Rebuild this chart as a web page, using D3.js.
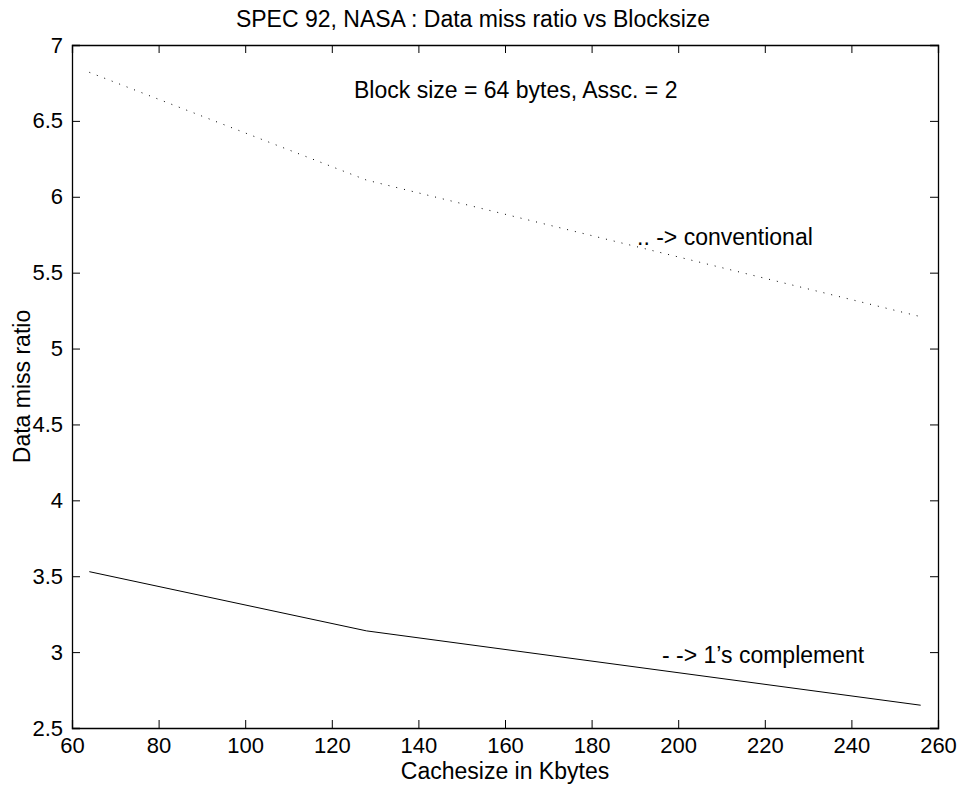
<!DOCTYPE html>
<html>
<head>
<meta charset="utf-8">
<script src="https://cdn.jsdelivr.net/npm/d3@7"></script>
<style>
  body { margin: 0; background: #fff; }
  svg text { font-family: "Liberation Sans", Arial, sans-serif; fill: #000; }
</style>
</head>
<body>
<svg id="chart" width="963" height="787"></svg>
<script>
// Cache sizes (Kbytes) and data miss ratios for each scheme
const cacheSizes = [64, 128, 256];
const conventional = [6.82, 6.11, 5.21];
const onesComplement = [3.53, 3.14, 2.65];
const xTicks = [60, 80, 100, 120, 140, 160, 180, 200, 220, 240, 260];
const yTicks = [2.5, 3, 3.5, 4, 4.5, 5, 5.5, 6, 6.5, 7];

const svg = d3.select("#chart");
const margin = { left: 72, right: 25, top: 45, bottom: 59 };
const W = 963, H = 787;
const x = d3.scaleLinear().domain([60, 260]).range([margin.left, W - margin.right]);
const y = d3.scaleLinear().domain([2.5, 7]).range([H - margin.bottom, margin.top]);

const tickLen = 8;
const tickFont = 22;
const textFont = 23;
const fmt = d => String(d);

// Bottom axis with labels, ticks pointing inward
svg.append("g")
  .attr("transform", `translate(0,${y(2.5)})`)
  .call(d3.axisBottom(x).tickValues(xTicks).tickSize(-tickLen).tickPadding(9).tickFormat(fmt))
  .call(g => g.selectAll("text").attr("font-size", tickFont));
// Top axis, ticks only
svg.append("g")
  .attr("transform", `translate(0,${y(7)})`)
  .call(d3.axisTop(x).tickValues(xTicks).tickSize(-tickLen).tickFormat(""));
// Left axis with labels
svg.append("g")
  .attr("transform", `translate(${x(60)},0)`)
  .call(d3.axisLeft(y).tickValues(yTicks).tickSize(-tickLen).tickPadding(9).tickFormat(fmt))
  .call(g => g.selectAll("text").attr("font-size", tickFont));
// Right axis, ticks only
svg.append("g")
  .attr("transform", `translate(${x(260)},0)`)
  .call(d3.axisRight(y).tickValues(yTicks).tickSize(-tickLen).tickFormat(""));

svg.selectAll("g").attr("font-family", null);
svg.selectAll(".domain").attr("stroke", "#000").attr("stroke-width", 1.3);
svg.selectAll(".tick line").attr("stroke", "#000");

const line = d3.line().x((d, i) => x(cacheSizes[i])).y(d => y(d));

// Conventional scheme: dotted line
svg.append("path")
  .datum(conventional)
  .attr("d", line)
  .attr("fill", "none")
  .attr("stroke", "#000")
  .attr("stroke-width", 1)
  .attr("stroke-dasharray", "1,7");

// 1's complement scheme: solid line
svg.append("path")
  .datum(onesComplement)
  .attr("d", line)
  .attr("fill", "none")
  .attr("stroke", "#000")
  .attr("stroke-width", 1);

// Title and axis labels
svg.append("text").attr("x", 473).attr("y", 27)
  .attr("text-anchor", "middle").attr("font-size", textFont)
  .text("SPEC 92, NASA : Data miss ratio vs Blocksize");
svg.append("text").attr("x", (margin.left + W - margin.right) / 2).attr("y", 779)
  .attr("text-anchor", "middle").attr("font-size", textFont)
  .text("Cachesize in Kbytes");
svg.append("text").attr("transform", `translate(30,${(margin.top + H - margin.bottom) / 2}) rotate(-90)`)
  .attr("text-anchor", "middle").attr("font-size", textFont)
  .text("Data miss ratio");

// In-plot annotations
svg.append("text").attr("x", 354).attr("y", 98).attr("font-size", textFont)
  .text("Block size = 64 bytes, Assc. = 2");
svg.append("text").attr("x", 637).attr("y", 245).attr("font-size", textFont)
  .text(".. -> conventional");
svg.append("text").attr("x", 662).attr("y", 663).attr("font-size", textFont)
  .text("- -> 1\u2019s complement");
</script>
</body>
</html>
